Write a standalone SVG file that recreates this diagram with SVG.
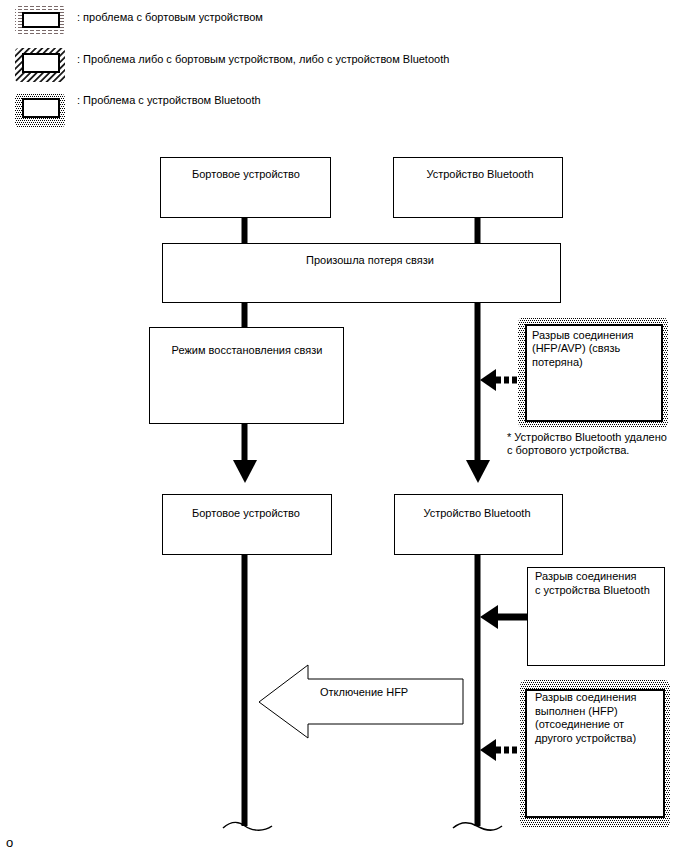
<svg xmlns="http://www.w3.org/2000/svg" width="688" height="852" viewBox="0 0 688 852">
<defs>
<pattern id="dots" width="4" height="4" patternUnits="userSpaceOnUse">
<rect width="4" height="4" fill="#fff"/>
<rect x="0" y="0" width="1" height="1" fill="#000"/>
<rect x="2" y="0" width="1" height="1" fill="#000"/>
<rect x="1" y="2" width="1" height="1" fill="#000"/>
<rect x="3" y="2" width="1" height="1" fill="#000"/>
</pattern>
<pattern id="dash" width="6" height="3" patternUnits="userSpaceOnUse">
<rect width="6" height="3" fill="#fff"/>
<rect x="0" y="0" width="4" height="1" fill="#7a6a6a"/>
</pattern>
<pattern id="diag" width="4.5" height="4.5" patternUnits="userSpaceOnUse" patternTransform="rotate(45)">
<rect width="4.5" height="4.5" fill="#fff"/>
<rect x="0" y="0" width="1.8" height="4.5" fill="#1a1a1a"/>
</pattern>
</defs>
<style>
text{font-family:"Liberation Sans",Arial,sans-serif;font-size:11px;fill:#000}
.c{text-anchor:middle}
.box{fill:#fff;stroke:#000;stroke-width:1}
.ibox{fill:#fff;stroke:#000;stroke-width:2}
.life{stroke:#000;stroke-width:6;fill:none}
.dsh{stroke:#000;stroke-width:7;stroke-dasharray:5 3;fill:none}
.wave{stroke:#000;stroke-width:1.5;fill:none}
</style>
<rect width="688" height="852" fill="#fff"/>

<g id="legend">
<g id="legend1">
<rect x="15" y="5" width="50" height="30" rx="5" fill="url(#dash)"/>
<rect x="23" y="13" width="36" height="14" class="ibox"/>
<text x="77" y="21">: проблема с бортовым устройством</text>
</g>
<g id="legend2">
<rect x="15" y="48" width="50" height="34" rx="4" fill="url(#diag)"/>
<rect x="23" y="54" width="36" height="18" class="ibox"/>
<text x="77" y="63">: Проблема либо с бортовым устройством, либо с устройством Bluetooth</text>
</g>
<g id="legend3">
<rect x="15" y="93" width="50" height="35" rx="5" fill="url(#dots)"/>
<rect x="23" y="99" width="36" height="18" class="ibox"/>
<text x="77" y="104">: Проблема с устройством Bluetooth</text>
</g>
</g>

<g id="connectors">
<line x1="244.5" y1="217" x2="244.5" y2="243" class="life"/>
<line x1="477.5" y1="217" x2="477.5" y2="243" class="life"/>
<line x1="244.5" y1="303" x2="244.5" y2="327" class="life"/>
<line x1="244.5" y1="423" x2="244.5" y2="462" class="life"/>
<polygon points="233,460 257,460 245,483" fill="#000"/>
<line x1="477.5" y1="303" x2="477.5" y2="462" class="life"/>
<polygon points="466,460 490,460 478,483" fill="#000"/>
<polygon points="480,380 496,369 496,391" fill="#000"/>
<line x1="496" y1="380" x2="520" y2="380" class="dsh"/>
<line x1="244.5" y1="554" x2="244.5" y2="826" class="life"/>
<line x1="477.5" y1="554" x2="477.5" y2="826" class="life"/>
<path d="M223,828 C232,820 240,822 245,826 S262,833 272,826" class="wave"/>
<path d="M453,828 C462,820 470,822 477,826 S493,833 502,826" class="wave"/>
<polygon points="480,617 498,605 498,629" fill="#000"/>
<rect x="497" y="613.5" width="30" height="7" fill="#000"/>
<polygon points="480,750 496,739 496,761" fill="#000"/>
<line x1="496" y1="750" x2="520" y2="750" class="dsh"/>
</g>

<g id="n1">
<rect x="160.5" y="157.5" width="170" height="60" class="box"/>
<text x="246" y="178" class="c">Бортовое устройство</text>
</g>
<g id="n2">
<rect x="393.5" y="157.5" width="169" height="60" class="box"/>
<text x="480" y="178" class="c">Устройство Bluetooth</text>
</g>
<g id="n3">
<rect x="162.5" y="243.5" width="398" height="59" class="box"/>
<text x="370" y="264" class="c">Произошла потеря связи</text>
</g>
<g id="n4">
<rect x="149.5" y="327.5" width="194" height="96" class="box"/>
<text x="247" y="354" class="c">Режим восстановления связи</text>
</g>
<g id="n5">
<rect x="518" y="317" width="150" height="111" rx="6" fill="url(#dots)"/>
<rect x="526" y="325" width="136" height="96" class="ibox"/>
<text x="532" y="339">Разрыв соединения</text>
<text x="532" y="352">(HFP/AVP) (связь</text>
<text x="532" y="366">потеряна)</text>
</g>
<g id="note">
<text x="507" y="441">* Устройство Bluetooth удалено</text>
<text x="507" y="454">с бортового устройства.</text>
</g>
<g id="n6">
<rect x="162.5" y="494.5" width="169" height="60" class="box"/>
<text x="246" y="517" class="c">Бортовое устройство</text>
</g>
<g id="n7">
<rect x="394.5" y="494.5" width="168" height="60" class="box"/>
<text x="477" y="517" class="c">Устройство Bluetooth</text>
</g>
<g id="n8">
<rect x="527.5" y="567.5" width="137" height="98" class="box"/>
<text x="535" y="580">Разрыв соединения</text>
<text x="535" y="594">с устройства Bluetooth</text>
</g>
<g id="n9">
<polygon points="259,702 308,665 308,679 463,679 463,724 308,724 308,738" fill="#fff" stroke="#000" stroke-width="1"/>
<text x="320" y="696">Отключение HFP</text>
</g>
<g id="n10">
<rect x="520" y="680" width="150" height="148" rx="6" fill="url(#dots)"/>
<rect x="526" y="690" width="138" height="127" class="ibox"/>
<text x="535" y="701">Разрыв соединения</text>
<text x="535" y="715">выполнен (HFP)</text>
<text x="535" y="728">(отсоединение от</text>
<text x="535" y="742">другого устройства)</text>
</g>
<text x="6" y="847" style="font-size:13px">o</text>
</svg>
